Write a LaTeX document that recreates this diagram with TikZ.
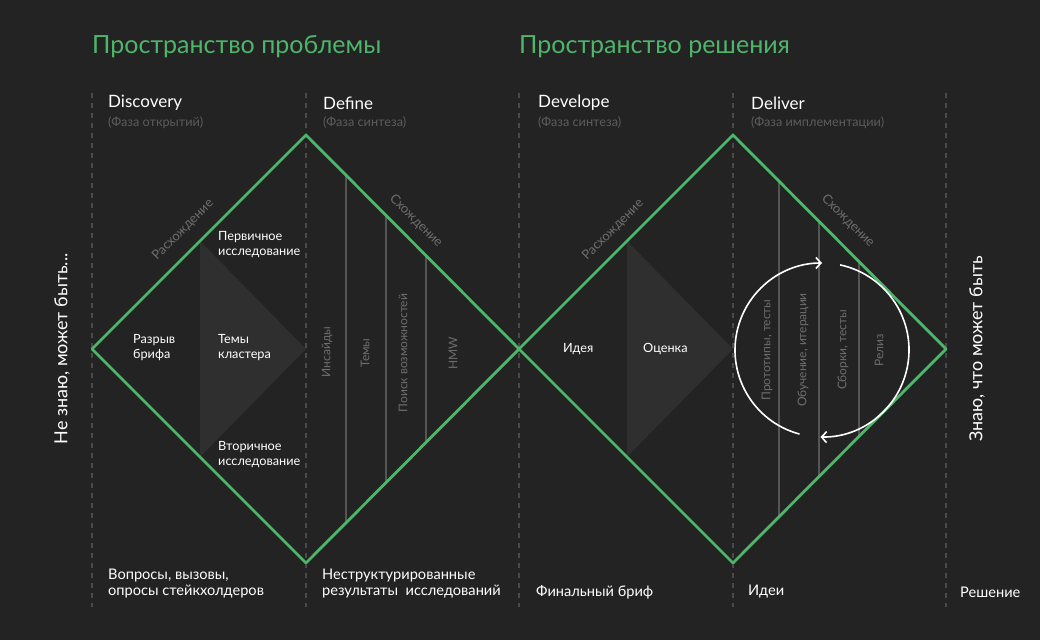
\documentclass[tikz,border=0pt]{standalone}
\usepackage{fontspec}
\setmainfont{Lato}
\usetikzlibrary{arrows.meta}
\definecolor{bgc}{HTML}{232323}
\definecolor{grn}{HTML}{4DB66A}
\definecolor{gtxt}{HTML}{6E6E6E}
\definecolor{subt}{HTML}{5C5C5C}
\definecolor{dashc}{HTML}{4A4A4A}
\definecolor{inln}{HTML}{555555}
\definecolor{trif}{HTML}{2F2F2F}
\tikzset{
  title/.style={text=grn, font=\fontsize{25}{29}\selectfont, anchor=west, inner sep=0pt},
  phase/.style={text=white, font=\fontsize{17}{20}\selectfont, anchor=west, inner sep=0pt},
  phasesub/.style={text=subt, font=\fontsize{12.7}{15}\selectfont, anchor=west, inner sep=0pt},
  lbl/.style={text=white, font=\fontsize{12.7}{15}\selectfont, anchor=west, align=left, inner sep=0pt},
  btm/.style={text=white, font=\fontsize{14.6}{16}\selectfont, anchor=west, align=left, inner sep=0pt},
  vlbl/.style={text=gtxt, font=\fontsize{12}{14}\selectfont, rotate=90, inner sep=0pt},
  diag/.style={text=gtxt, font=\fontsize{13}{15}\selectfont, inner sep=0pt},
  side/.style={text=white, font=\fontsize{18}{22}\selectfont, rotate=90, inner sep=0pt},
  dashln/.style={draw=dashc, line width=1.5pt, dash pattern=on 5pt off 5pt},
  innerln/.style={draw=inln, line width=1.5pt},
  dmd/.style={draw=grn, line width=2.8pt, line join=round},
  cyc/.style={draw=white, line width=1.6pt, -{Straight Barb[length=5pt,width=11pt]}},
}
\begin{document}
\begin{tikzpicture}[x=1pt,y=-1pt]
\fill[bgc] (0,0) rectangle (1040,640);
\useasboundingbox (0,0) rectangle (1040,640);

% dashed separators
\foreach \xx in {92,306,519,733,946}{
  \draw[dashln] (\xx,93) -- (\xx,607);
}

% triangles
\fill[trif] (200,241) -- (200,457) -- (306,349) -- cycle;
\fill[trif] (627,241) -- (627,457) -- (733,349) -- cycle;

% inner vertical lines (define)
\draw[innerln] (346,175) -- (346,523);
\draw[innerln] (386,215) -- (386,483);
\draw[innerln] (426,255) -- (426,443);
% inner vertical lines (deliver)
\draw[innerln] (779,181) -- (779,517);
\draw[innerln] (819,221) -- (819,477);
\draw[innerln] (859,261) -- (859,437);

% diamonds
\coordinate (L1) at (92,349);
\coordinate (T1) at (306,135);
\coordinate (M)  at (519,349);
\coordinate (B1) at (306,563);
\coordinate (T2) at (733,135);
\coordinate (R2) at (946,349);
\coordinate (B2) at (733,563);
\draw[dmd] (L1) -- (T1) -- (M) -- (B1) -- cycle;
\draw[dmd] (M) -- (T2) -- (R2) -- (B2) -- cycle;

% titles
\node[title] (tp) at (92,47) {Пространство проблемы};
\node[title] (ts) at (519,47) {Пространство решения};

% phases
\node[phase] (p1) at (108,103) {Discovery};
\node[phasesub] (s1) at (108,123) {(Фаза открытий)};
\node[phase] (p2) at (323,103) {Define};
\node[phasesub] (s2) at (323,123) {(Фаза синтеза)};
\node[phase] (p3) at (538,103) {Develope};
\node[phasesub] (s3) at (538,123) {(Фаза синтеза)};
\node[phase] (p4) at (751,103) {Deliver};
\node[phasesub] (s4) at (751,123) {(Фаза имплементации)};

% diagonal labels
\node[diag, rotate=45] (r1) at (183,230) {Расхождение};
\node[diag, rotate=-45] (c1) at (416,221) {Схождение};
\node[diag, rotate=45] (r2) at (613,230) {Расхождение};
\node[diag, rotate=-45] (c2) at (848,221) {Схождение};

% left diamond labels
\node[lbl] (n1) at (218,245) {Первичное\\исследование};
\node[lbl] (n2) at (133,348) {Разрыв\\брифа};
\node[lbl] (n3) at (218,348) {Темы\\кластера};
\node[lbl] (n4) at (218,455) {Вторичное\\исследование};
\node[lbl] (n5) at (563,349) {Идея};
\node[lbl] (n6) at (643,349) {Оценка};

% vertical labels
\node[vlbl] (v1) at (327,352) {Инсайды};
\node[vlbl] (v2) at (365,353) {Темы};
\node[vlbl] (v3) at (403,353) {Поиск возможностей};
\node[vlbl] (v4) at (453,353) {HMW};
\node[vlbl] (v5) at (767,350) {Прототипы, тесты};
\node[vlbl] (v6) at (803,350) {Обучение, итерации};
\node[vlbl] (v7) at (843,350) {Сборки, тесты};
\node[vlbl] (v8) at (879,350) {Релиз};

% cycle
\coordinate (cc) at (822,350);
\draw[cyc] ([shift={(105:87)}]cc) arc[start angle=105, end angle=270, radius=87];
\draw[cyc] ([shift={(-78:87)}]cc) arc[start angle=-78, end angle=91, radius=87];

% bottom labels
\node[btm] (b1) at (108,584) {Вопросы, вызовы,\\опросы стейкхолдеров};
\node[btm] (b2) at (322,584) {Неструктурированные\\результаты\ \ исследований};
\node[btm] (b3) at (536,592) {Финальный бриф};
\node[btm] (b4) at (748,592) {Идеи};
\node[btm] (b5) at (960,592) {Решение};

% side labels
\node[side] (sl) at (62,349) {Не знаю, может быть...};
\node[side] (sr) at (977,349) {Знаю, что может быть};
\end{tikzpicture}
\end{document}
